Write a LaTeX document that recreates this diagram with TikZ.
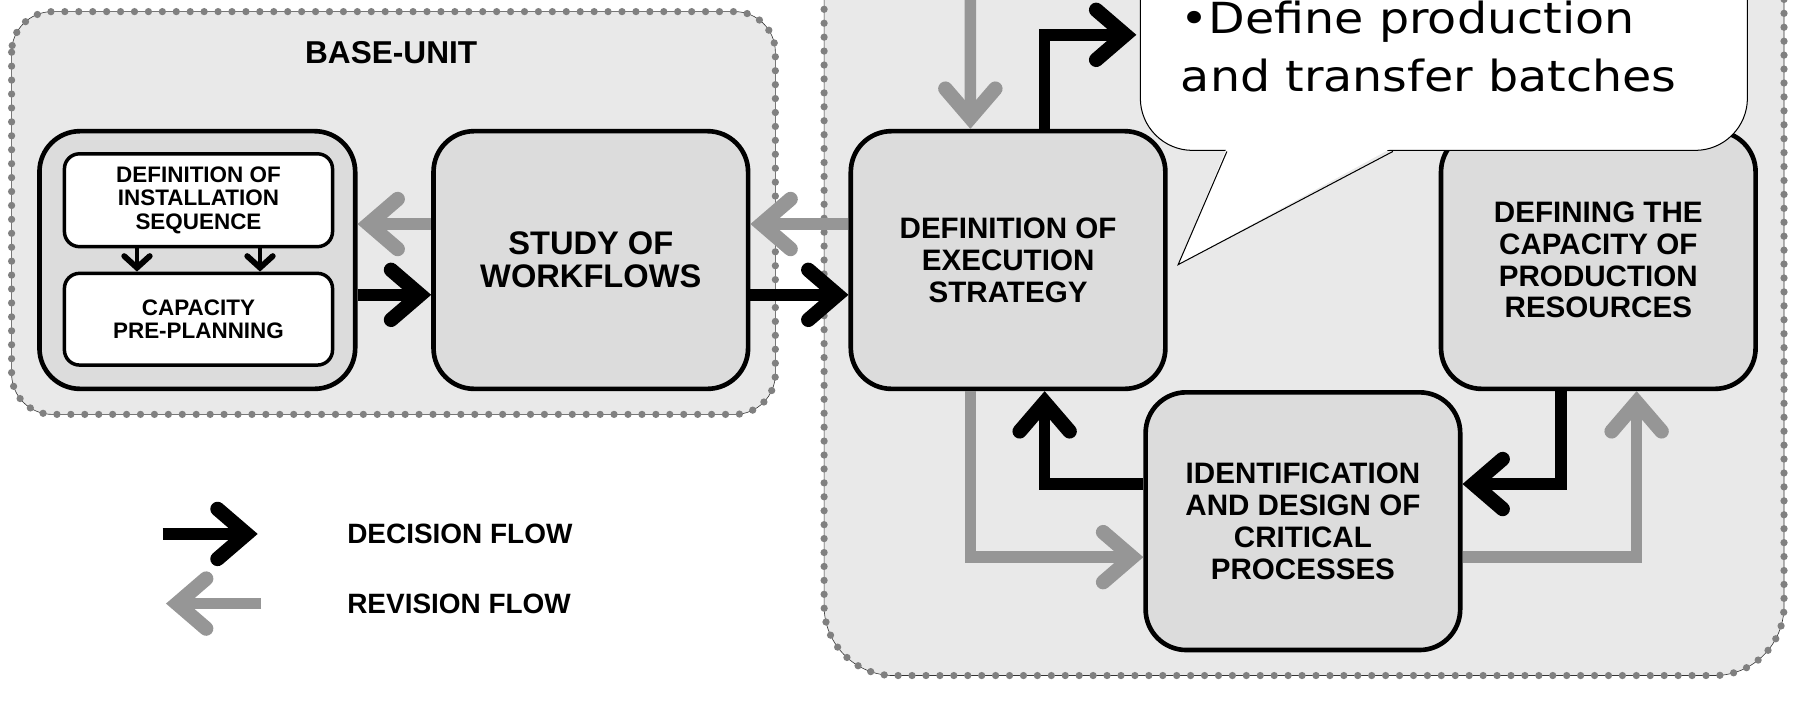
\documentclass[tikz,border=0pt]{standalone}
\usepackage{fontspec}
\setmainfont{Liberation Sans}
\newfontfamily\bubblefont[FakeStretch=1.11]{DejaVu Sans}
\usepackage{tikz}
\usetikzlibrary{positioning, arrows.meta, calc}
\definecolor{flowGray}{HTML}{969696}
\definecolor{boxGray}{HTML}{DCDCDC}
\definecolor{areaGray}{HTML}{E9E9E9}
\definecolor{dotGray}{HTML}{808080}

\begin{document}
\begin{tikzpicture}[x=0.2mm, y=-0.2mm,
  stepbox/.style={draw, line width=0.8mm, rounded corners=7mm, fill=boxGray,
                  minimum width=54.2mm, minimum height=44.4mm, align=center,
                  font=\bfseries\fontsize{14.5}{15.6}\selectfont},
  subbox/.style={draw, line width=0.6mm, rounded corners=2.6mm, fill=white,
                 minimum width=46.2mm, minimum height=16mm, align=center,
                 font=\bfseries\fontsize{11}{11.4}\selectfont},
  area/.style={fill=areaGray, draw=black!80, line width=0.3pt,
               postaction={draw=dotGray, line width=1.25mm, line cap=round,
                           dash pattern=on 0pt off 2.4mm}},
  decision/.style={draw=black, line width=2mm,
                   -{Straight Barb[length=5mm, width=8.6mm, line width=2.5mm,
                                   line cap=round, line join=miter]}},
  revision/.style={decision, draw=flowGray},
  smallflow/.style={draw=black, line width=0.8mm,
                    -{Straight Barb[length=2mm, width=4.4mm, line width=1mm,
                                    line cap=round, line join=miter]}},
  legendtext/.style={anchor=west, font=\bfseries\fontsize{13.7}{15}\selectfont}
]
\useasboundingbox (0,0) rectangle (1568,618);
\clip (0,0) rectangle (1568,618);

% areas
\path[area, rounded corners=7mm] (10,10) rectangle (668,357);
\path[area, rounded corners=12mm] (710,-100) rectangle (1537,582);
\node[font=\bfseries\fontsize{15.5}{16}\selectfont] (baseunit) at (337,45) {BASE-UNIT};

% base-unit boxes
\node[stepbox, minimum width=54.4mm] (group) at (170,224) {};
\node[subbox] (sequence) at (171,172.5) {DEFINITION OF\\INSTALLATION\\SEQUENCE};
\node[subbox, minimum height=15.8mm] (preplan) at (171,275) {CAPACITY\\PRE-PLANNING};
\node[stepbox, font=\bfseries\fontsize{16}{16}\selectfont] (study) at (509,224) {STUDY OF\\WORKFLOWS};

% second area boxes
\node[stepbox] (strategy) at (868.5,224) {DEFINITION OF\\EXECUTION\\STRATEGY};
\node[stepbox] (capacity) at (1377,224) {DEFINING THE\\CAPACITY OF\\PRODUCTION\\RESOURCES};
\node[stepbox] (critical) at (1122.5,449) {IDENTIFICATION\\AND DESIGN OF\\CRITICAL\\PROCESSES};

\coordinate (fromTop) at (836,-20);
\coordinate (toBubble) at (979,30);

% flows
\draw[smallflow] ([xshift=-10.6mm]sequence.south) -- ([xshift=-10.6mm]preplan.north);
\draw[smallflow] ([xshift=10.6mm]sequence.south) -- ([xshift=10.6mm]preplan.north);
\draw[revision] ([yshift=6.2mm]study.west) -- ([yshift=6.2mm]group.east);
\draw[decision] ([yshift=-6mm]group.east) -- ([yshift=-6mm]study.west);
\draw[revision] ([yshift=6.2mm]strategy.west) -- ([yshift=6.2mm]study.east);
\draw[decision] ([yshift=-6mm]study.east) -- ([yshift=-6mm]strategy.west);
\draw[revision] (fromTop) -- ([xshift=-6.5mm]strategy.north);
\draw[decision] ([xshift=6.3mm]strategy.north) |- (toBubble);
\draw[revision] ([xshift=-6.5mm]strategy.south) |- ([yshift=-6.2mm]critical.west);
\draw[decision] ([yshift=6.4mm]critical.west) -| ([xshift=6.3mm]strategy.south);
\draw[decision] ([xshift=-6.4mm]capacity.south) |- ([yshift=6.4mm]critical.east);
\draw[revision] ([yshift=-6.2mm]critical.east) -| ([xshift=6.6mm]capacity.south);

% callout
\node[draw, line width=0.5pt, fill=white, rounded corners=9mm, minimum width=104.6mm,
      minimum height=50mm, anchor=south west] (bubble) at (982,130) {};
\coordinate (tip) at (1015,228);
\fill[white] (1057,127) -- (tip) -- (1200,127) -- cycle;
\draw[line width=0.5pt] (1057,130.5) -- (tip) -- (1200,130.5);
\node[anchor=north west, align=left, inner sep=0pt,
      font=\bubblefont\fontsize{21}{28.5}\selectfont] (batches) at (1017,0.5)
  {•Define production\\and transfer batches};

% legend
\coordinate (decStart) at (140,460);
\coordinate (decEnd) at (222,460);
\coordinate (revStart) at (225,520);
\coordinate (revEnd) at (143,520);
\draw[decision] (decStart) -- (decEnd);
\draw[revision] (revStart) -- (revEnd);
\node[legendtext] (declabel) at (293,460) {DECISION FLOW};
\node[legendtext] (revlabel) at (293,520) {REVISION FLOW};
\end{tikzpicture}
\end{document}
